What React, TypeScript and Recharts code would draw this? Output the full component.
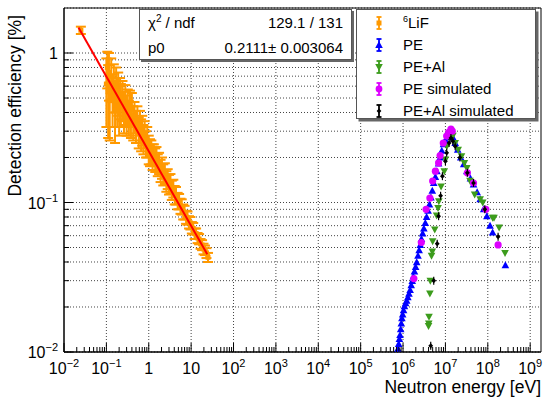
import React from 'react';
import {
    ScatterChart,
    Scatter,
    XAxis,
    YAxis,
    CartesianGrid,
    ErrorBar,
    ReferenceLine,
    ReferenceArea
} from 'recharts';

const FONT = '"Liberation Sans", Arial, Helvetica, sans-serif';

// 6LiF measurement (energy in eV, efficiency in %)
const lifEnergy = [
    0.025, 0.1, 0.105, 0.11, 0.115, 0.12, 0.13, 0.14, 0.15, 0.16,
    0.17, 0.18, 0.19, 0.2, 0.21, 0.22, 0.24, 0.26, 0.28, 0.3,
    0.32, 0.34, 0.36, 0.38, 0.4, 0.43, 0.46, 0.5, 0.54, 0.58,
    0.62, 0.66, 0.7, 0.75, 0.8, 0.86, 0.92, 1.0, 1.07, 1.15,
    1.23, 1.32, 1.42, 1.52, 1.63, 1.75, 1.9, 2.05, 2.2, 2.4,
    2.6, 2.8, 3.0, 3.25, 3.5, 3.8, 4.1, 4.4, 4.8, 5.2,
    5.6, 6.0, 6.5, 7.0, 7.6, 8.2, 8.9, 9.6, 10.4, 11.2,
    12.1, 13.1, 14.2, 15.4, 16.7, 18.1, 19.6, 21.2, 23.0, 25.0
];
const lifEff = [
    1.42, 0.62, 0.8, 0.55, 0.74, 0.48, 0.7, 0.52, 0.62, 0.45,
    0.6, 0.5, 0.56, 0.44, 0.52, 0.47, 0.5, 0.42, 0.47, 0.4,
    0.45, 0.38, 0.44, 0.37, 0.43, 0.35, 0.38, 0.33, 0.36, 0.3,
    0.33, 0.29, 0.31, 0.27, 0.29, 0.25, 0.26, 0.23, 0.22, 0.22,
    0.205, 0.21, 0.195, 0.2, 0.18, 0.185, 0.165, 0.172, 0.155, 0.158,
    0.14, 0.145, 0.133, 0.135, 0.122, 0.125, 0.113, 0.112, 0.103, 0.102,
    0.095, 0.094, 0.087, 0.086, 0.08, 0.079, 0.074, 0.073, 0.068, 0.067,
    0.062, 0.062, 0.058, 0.057, 0.053, 0.052, 0.049, 0.048, 0.046, 0.043
];
const lifErr = [
    0.08, 0.3, 0.22, 0.28, 0.26, 0.22, 0.22, 0.2, 0.22, 0.2,
    0.2, 0.18, 0.18, 0.16, 0.16, 0.15, 0.15, 0.13, 0.14, 0.12,
    0.12, 0.1, 0.12, 0.1, 0.11, 0.09, 0.09, 0.08, 0.08, 0.07,
    0.08, 0.07, 0.07, 0.06, 0.06, 0.05, 0.06, 0.05, 0.045, 0.04,
    0.04, 0.035, 0.035, 0.035, 0.03, 0.03, 0.028, 0.028, 0.025, 0.025,
    0.022, 0.022, 0.02, 0.02, 0.018, 0.017, 0.016, 0.015, 0.013, 0.012,
    0.011, 0.011, 0.01, 0.009, 0.008, 0.008, 0.007, 0.007, 0.006, 0.006,
    0.005, 0.005, 0.0045, 0.0045, 0.004, 0.004, 0.004, 0.0035, 0.0035, 0.003
];

// fit p0/sqrt(E), end points of the drawn line
const fitEnergy = [0.022, 24];
const fitEff = [1.48, 0.045];

// PE
const peEnergy = [
    7.6e5, 7.9e5, 8.2e5, 8.5e5, 8.8e5, 9.1e5, 9.4e5, 9.8e5, 1.03e6, 1.08e6,
    1.15e6, 1.22e6, 1.3e6, 1.38e6, 1.47e6, 1.56e6, 1.65e6, 1.75e6, 1.86e6, 1.98e6,
    2.1e6, 2.25e6, 2.4e6, 2.55e6, 2.72e6, 2.9e6, 3.1e6, 3.35e6, 3.6e6, 3.9e6,
    4.2e6, 4.55e6, 4.9e6, 5.3e6, 5.8e6, 6.3e6, 6.9e6, 7.5e6, 8.2e6, 9.0e6,
    1.0e7, 1.1e7, 1.22e7, 1.35e7, 1.5e7, 1.7e7, 1.95e7, 2.3e7, 2.7e7, 3.2e7,
    3.9e7, 4.6e7, 5.6e7, 6.6e7, 8.0e7, 9.5e7, 1.13e8, 1.3e8, 2.6e8
];
const peEff = [
    0.0105, 0.0113, 0.0122, 0.013, 0.0142, 0.0155, 0.0168, 0.0178, 0.019, 0.0202,
    0.0212, 0.022, 0.0232, 0.0245, 0.026, 0.028, 0.0298, 0.032, 0.0345, 0.037,
    0.0398, 0.044, 0.048, 0.052, 0.057, 0.062, 0.067, 0.073, 0.08, 0.088,
    0.097, 0.108, 0.12, 0.135, 0.148, 0.162, 0.182, 0.2, 0.222, 0.245,
    0.262, 0.275, 0.283, 0.285, 0.272, 0.25, 0.225, 0.2, 0.18, 0.162,
    0.145, 0.132, 0.117, 0.105, 0.09, 0.081, 0.07, 0.063, 0.038
];

// PE+Al
const peAlEnergy = [
    4.0e6, 4.05e6, 4.1e6, 4.3e6, 4.4e6, 4.7e6, 4.9e6, 5.0e6, 5.6e6, 6.2e6,
    6.7e6, 7.0e6, 7.9e6, 9.4e6, 1.0e7, 1.08e7, 1.22e7, 1.36e7, 1.5e7, 1.7e7,
    2.0e7, 2.4e7, 2.8e7, 3.2e7, 3.8e7, 4.9e7, 6.6e7, 7.6e7, 1.3e8, 1.4e8,
    1.85e8, 2.55e8
];
const peAlEff = [
    0.0149, 0.0155, 0.0172, 0.0246, 0.03, 0.044, 0.047, 0.055, 0.066, 0.082,
    0.092, 0.102, 0.128, 0.162, 0.194, 0.238, 0.278, 0.295, 0.28, 0.25,
    0.225, 0.204, 0.184, 0.17, 0.14, 0.113, 0.105, 0.1, 0.079, 0.079,
    0.068, 0.046
];

// PE simulated
const peSimEnergy = [
    1.8e6, 2.7e6, 3.5e6, 4.3e6, 5.0e6, 5.8e6, 6.9e6, 7.5e6, 8.9e6, 1.07e7,
    1.2e7, 1.35e7, 1.45e7, 3.3e7, 4.6e7, 9.0e7, 1.75e8
];
const peSimEff = [
    0.031, 0.054, 0.09, 0.107, 0.139, 0.162, 0.184, 0.206, 0.25, 0.278,
    0.295, 0.31, 0.3, 0.158, 0.135, 0.09, 0.052
];

// PE+Al simulated
const peAlSimEnergy = [
    4.5e6, 5.3e6, 6.4e6, 6.9e6, 7.7e6, 8.5e6, 1.0e7, 1.07e7, 1.22e7, 1.35e7,
    1.5e7, 1.7e7, 2.2e7, 3.3e7, 4.6e7, 8.5e7, 1.75e8
];
const peAlSimEff = [
    0.011, 0.03, 0.053, 0.081, 0.111, 0.15, 0.189, 0.215, 0.25, 0.27,
    0.257, 0.238, 0.2, 0.158, 0.135, 0.09, 0.059
];

// axis ticks
const xDecades = [-2, -1, 0, 1, 2, 3, 4, 5, 6, 7, 8, 9];
const yDecades = [-2, -1, 0];
const minorSteps = [2, 3, 4, 5, 6, 7, 8, 9];

const xMajor = xDecades.map((e) => Math.pow(10, e));
const xTicks = [
    ...xMajor,
    ...xDecades.slice(0, -1).flatMap((e) => minorSteps.map((m) => m * Math.pow(10, e)))
].sort((a, b) => a - b);
const yMajor = yDecades.map((e) => Math.pow(10, e));
const yTicks = [
    ...yMajor,
    ...yDecades.slice(0, -1).flatMap((e) => minorSteps.map((m) => m * Math.pow(10, e)))
].sort((a, b) => a - b);

const toPoints = (xs: number[], ys: number[], errs?: number[]) =>
    xs.map((x, i) => ({ x, y: ys[i], err: errs ? errs[i] : 0 }));

const lifData = toPoints(lifEnergy, lifEff, lifErr);
const fitData = toPoints(fitEnergy, fitEff);
const peData = toPoints(peEnergy, peEff);
const peAlData = toPoints(peAlEnergy, peAlEff);
const peSimData = toPoints(peSimEnergy, peSimEff);
const peAlSimData = toPoints(peAlSimEnergy, peAlSimEff);

const ORANGE = '#ff9900';
const BLUE = '#0000ff';
const GREEN = '#3c9c1c';
const MAGENTA = '#dd00ff';

const isDecade = (v: number) => Math.abs(Math.log10(v) - Math.round(Math.log10(v))) < 1e-6;

const PowerLabel = ({ x, y, exp, anchor }: { x: number; y: number; exp: number; anchor: string }) => {
    if (exp === 0 || exp === 1) {
        return (
            <text x={x} y={y} textAnchor={anchor} fontSize={16} fontFamily={FONT} fill="#000">
                {exp === 0 ? '1' : '10'}
            </text>
        );
    }
    return (
        <text x={x} y={y} textAnchor={anchor} fontSize={16} fontFamily={FONT} fill="#000">
            10
            <tspan dy={-7} fontSize={11}>
                {exp < 0 ? '\u2212' + Math.abs(exp) : String(exp)}
            </tspan>
        </text>
    );
};

const XTick = (props: any) => {
    const { x, y, payload } = props;
    const major = isDecade(payload.value);
    return (
        <g>
            <line x1={x} x2={x} y1={y} y2={y - (major ? 9 : 5)} stroke="#000" />
            {major && <PowerLabel x={x} y={y + 22} exp={Math.round(Math.log10(payload.value))} anchor="middle" />}
        </g>
    );
};

const YTick = (props: any) => {
    const { x, y, payload } = props;
    const major = isDecade(payload.value);
    return (
        <g>
            <line x1={x} x2={x + (major ? 9 : 5)} y1={y} y2={y} stroke="#000" />
            {major && <PowerLabel x={x - 6} y={y + 6} exp={Math.round(Math.log10(payload.value))} anchor="end" />}
        </g>
    );
};

const squareShape = (props: any) => {
    const { cx, cy } = props;
    if (cx == null || cy == null) return <g />;
    return <rect x={cx - 2.5} y={cy - 2.5} width={5} height={5} fill={ORANGE} />;
};
const triUp = (color: string) => (props: any) => {
    const { cx, cy } = props;
    if (cx == null || cy == null) return <g />;
    return <polygon points={`${cx},${cy - 4} ${cx - 3.8},${cy + 3} ${cx + 3.8},${cy + 3}`} fill={color} />;
};
const triDown = (color: string) => (props: any) => {
    const { cx, cy } = props;
    if (cx == null || cy == null) return <g />;
    return <polygon points={`${cx},${cy + 4} ${cx - 3.8},${cy - 3} ${cx + 3.8},${cy - 3}`} fill={color} />;
};
const circleShape = (color: string) => (props: any) => {
    const { cx, cy } = props;
    if (cx == null || cy == null) return <g />;
    return <circle cx={cx} cy={cy} r={3.6} fill={color} />;
};
const diamondShape = (props: any) => {
    const { cx, cy } = props;
    if (cx == null || cy == null) return <g />;
    return (
        <g>
            <line x1={cx} x2={cx} y1={cy - 4} y2={cy + 4} stroke="#000" strokeWidth={1.2} />
            <polygon points={`${cx},${cy - 2.6} ${cx + 2.4},${cy} ${cx},${cy + 2.6} ${cx - 2.4},${cy}`} fill="#000" />
        </g>
    );
};
const noShape = () => <g />;

const legendItems = [
    { label: 'LiF', sup: '6', color: ORANGE, kind: 'square' },
    { label: 'PE', sup: '', color: BLUE, kind: 'up' },
    { label: 'PE+Al', sup: '', color: GREEN, kind: 'down' },
    { label: 'PE simulated', sup: '', color: MAGENTA, kind: 'circle' },
    { label: 'PE+Al simulated', sup: '', color: '#000', kind: 'diamond' }
];

const LegendMarker = ({ cx, cy, color, kind }: { cx: number; cy: number; color: string; kind: string }) => {
    let marker: React.ReactNode = null;
    if (kind === 'square') marker = <rect x={cx - 2.5} y={cy - 2.5} width={5} height={5} fill={color} />;
    if (kind === 'up') marker = <polygon points={`${cx},${cy - 4} ${cx - 3.8},${cy + 3} ${cx + 3.8},${cy + 3}`} fill={color} />;
    if (kind === 'down') marker = <polygon points={`${cx},${cy + 4} ${cx - 3.8},${cy - 3} ${cx + 3.8},${cy - 3}`} fill={color} />;
    if (kind === 'circle') marker = <circle cx={cx} cy={cy} r={3.4} fill={color} />;
    if (kind === 'diamond')
        marker = <polygon points={`${cx},${cy - 2.6} ${cx + 2.4},${cy} ${cx},${cy + 2.6} ${cx - 2.4},${cy}`} fill={color} />;
    return (
        <g>
            <line x1={cx} x2={cx} y1={cy - 6} y2={cy + 6} stroke={color} strokeWidth={1.8} />
            <line x1={cx - 2.5} x2={cx + 2.5} y1={cy - 6} y2={cy - 6} stroke={color} strokeWidth={1.8} />
            <line x1={cx - 2.5} x2={cx + 2.5} y1={cy + 6} y2={cy + 6} stroke={color} strokeWidth={1.8} />
            {marker}
        </g>
    );
};

export default function App() {
    return (
        <div style={{ position: 'absolute', left: 0, top: 0, width: 550, height: 405, background: '#fff' }}>
            <ScatterChart width={550} height={405} margin={{ top: 8, right: 9, bottom: 0, left: 0 }}>
                <CartesianGrid vertical={false} stroke="#444" strokeDasharray="1 2" />
                {xMajor.slice(1).map((v) => (
                    <ReferenceLine key={v} x={v} stroke="#444" strokeDasharray="1 2" />
                ))}
                <XAxis
                    type="number"
                    dataKey="x"
                    scale="log"
                    domain={[0.01, 1.8e9]}
                    allowDataOverflow
                    ticks={xTicks}
                    interval={0}
                    tick={XTick}
                    tickLine={false}
                    tickSize={0}
                    tickMargin={0}
                    height={53}
                    axisLine={{ stroke: '#000' }}
                />
                <YAxis
                    type="number"
                    dataKey="y"
                    scale="log"
                    domain={[0.01, 2]}
                    allowDataOverflow
                    ticks={yTicks}
                    interval={0}
                    tick={YTick}
                    tickLine={false}
                    tickSize={0}
                    tickMargin={0}
                    width={64}
                    axisLine={{ stroke: '#000' }}
                />
                <ReferenceArea x1={0.01} x2={1.8e9} y1={0.01} y2={2} fill="none" stroke="#000" strokeWidth={1} />
                <Scatter data={lifData} shape={squareShape} isAnimationActive={false}>
                    <ErrorBar dataKey="err" direction="y" width={5} stroke={ORANGE} strokeWidth={2} />
                </Scatter>
                <Scatter
                    data={fitData}
                    shape={noShape}
                    line={{ stroke: '#ff0000', strokeWidth: 2 }}
                    isAnimationActive={false}
                />
                <Scatter data={peData} shape={triUp(BLUE)} isAnimationActive={false} />
                <Scatter data={peAlData} shape={triDown(GREEN)} isAnimationActive={false} />
                <Scatter data={peSimData} shape={circleShape(MAGENTA)} isAnimationActive={false} />
                <Scatter data={peAlSimData} shape={diamondShape} isAnimationActive={false} />
            </ScatterChart>
            <svg
                width={550}
                height={405}
                style={{ position: 'absolute', left: 0, top: 0, pointerEvents: 'none' }}
                fontFamily={FONT}
            >
                {/* axis titles */}
                <text x={541} y={393} textAnchor="end" fontSize={17.5} fill="#000">
                    Neutron energy [eV]
                </text>
                <text transform="translate(21,15) rotate(-90)" textAnchor="end" fontSize={17.5} fill="#000">
                    Detection efficiency [%]
                </text>

                {/* fit statistics box */}
                <rect x={141} y={11} width={213} height={51} fill="#666" />
                <rect x={139.5} y={9.5} width={212} height={50} fill="#fff" stroke="#555" />
                <text x={148} y={27.5} fontSize={15} fill="#000">
                    χ<tspan dy={-6} fontSize={10}>2</tspan>
                    <tspan dy={6}> / ndf</tspan>
                </text>
                <text x={343} y={27.5} textAnchor="end" fontSize={15} fill="#000">
                    129.1 / 131
                </text>
                <text x={148} y={53} fontSize={15} fill="#000">
                    p0
                </text>
                <text x={343} y={53} textAnchor="end" fontSize={15} fill="#000">
                    0.2111± 0.003064
                </text>

                {/* legend */}
                <rect x={358.5} y={11.5} width={180} height={110} fill="#666" />
                <rect x={356.5} y={9.5} width={179} height={109} fill="#fff" stroke="#555" />
                {legendItems.map((item, i) => {
                    const base = 28 + i * 22;
                    return (
                        <g key={item.label}>
                            <LegendMarker cx={379} cy={base - 5} color={item.color} kind={item.kind} />
                            <text x={403} y={base} fontSize={15} fill="#000">
                                {item.sup && (
                                    <tspan dy={-6} fontSize={9}>
                                        {item.sup}
                                    </tspan>
                                )}
                                {item.sup ? <tspan dy={6}>{item.label}</tspan> : item.label}
                            </text>
                        </g>
                    );
                })}
            </svg>
        </div>
    );
}
